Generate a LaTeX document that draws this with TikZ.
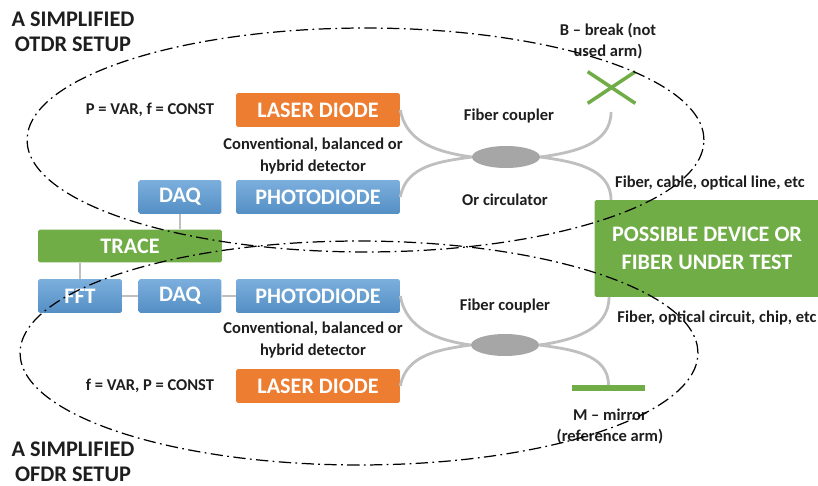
\documentclass[tikz,border=0pt]{standalone}
\usepackage{fontspec}
\setmainfont{Carlito}
\usepackage{tikz}
\usepackage{xcolor}
\usetikzlibrary{positioning,shapes.geometric}
\definecolor{fdblue}{HTML}{5B9BD5}
\definecolor{fdgreen}{HTML}{70AD47}
\definecolor{fdorange}{HTML}{ED7D31}
\definecolor{fdfiber}{HTML}{BFBFBF}
\definecolor{fdcoupler}{HTML}{A6A6A6}
\definecolor{fdtext}{HTML}{1E1E1E}
\tikzset{
  unitBox/.style={rounded corners=1pt, text=white, font=\bfseries\fontsize{12.6}{15}\selectfont, minimum height=0.68cm, inner sep=0pt, align=center},
  laserBox/.style={unitBox, fill=fdorange, minimum width=3.28cm},
  detBox/.style={unitBox, top color=fdblue!80!white, bottom color=fdblue!92!black, minimum width=3.28cm},
  smallBox/.style={detBox, minimum width=1.66cm},
  greenBox/.style={unitBox, fill=fdgreen},
  fiberLine/.style={draw=fdfiber, line width=1.6pt},
  couplerNode/.style={ellipse, fill=fdcoupler, minimum width=1.36cm, minimum height=0.44cm, inner sep=0pt},
  setupLabel/.style={font=\bfseries\fontsize{9.4}{12}\selectfont, text=fdtext, align=center, inner sep=0pt},
  setupTitle/.style={font=\bfseries\fontsize{12.7}{14.4}\selectfont, text=fdtext, align=center, inner sep=0pt},
  setupBound/.style={line width=0.7pt, dash pattern=on 7pt off 2.5pt on 1pt off 2.5pt}
}

\begin{document}
\begin{tikzpicture}[x=0.02cm,y=-0.02cm]
  \useasboundingbox (0,0) rectangle (818,486);

  \node[laserBox] (ldTop) at (318,110) {LASER DIODE};
  \node[detBox] (pdTop) at (318,197) {PHOTODIODE};
  \node[smallBox] (daqTop) at (180,197) {DAQ};
  \node[greenBox, minimum width=3.68cm, minimum height=0.66cm] (trace) at (130,246) {TRACE};
  \node[smallBox, minimum width=1.68cm] (fft) at (80,296) {FFT};
  \node[smallBox] (daqBot) at (180,296) {DAQ};
  \node[detBox] (pdBot) at (318,296) {PHOTODIODE};
  \node[laserBox] (ldBot) at (318,386) {LASER DIODE};
  \node[greenBox, minimum width=4.5cm, minimum height=1.94cm] (dut) at (707,248.5) {POSSIBLE DEVICE OR\\[1pt]FIBER UNDER TEST};

  \draw[fiberLine] (daqTop.south) -- (daqTop.south |- trace.north);
  \draw[fiberLine] (fft.north |- trace.south) -- (fft.north);
  \draw[fiberLine] (fft.east) -- (daqBot.west);
  \draw[fiberLine] (daqBot.east) -- (pdBot.west);

  \node[couplerNode] (cplTop) at (506,157) {};
  \node[couplerNode] (cplBot) at (505,345) {};
  \coordinate (brkEnd) at (611,112);
  \coordinate (dutIn) at (611,200);
  \coordinate (dutOut) at (609,297);
  \node[fill=fdgreen, minimum width=1.46cm, minimum height=3pt, inner sep=0pt] (mirror) at (608.5,388) {};

  \draw[fiberLine] (ldTop.east) to[out=-80, in=172] (cplTop.west);
  \draw[fiberLine] (pdTop.east) to[out=80, in=188] (cplTop.west);
  \draw[fiberLine] (cplTop.east) to[out=8, in=-90] (brkEnd);
  \draw[fiberLine] (cplTop.east) to[out=-8, in=90] (dutIn);
  \draw[fiberLine] (pdBot.east) to[out=-80, in=172] (cplBot.west);
  \draw[fiberLine] (ldBot.east) to[out=80, in=188] (cplBot.west);
  \draw[fiberLine] (cplBot.east) to[out=8, in=-90] (dutOut);
  \draw[fiberLine] (cplBot.east) to[out=-8, in=90] (mirror.north);

  \node[minimum width=0.94cm, minimum height=0.62cm, inner sep=0pt] (brk) at (611.5,87.5) {};
  \draw[fdgreen, line width=2pt] (brk.north west) -- (brk.south east);
  \draw[fdgreen, line width=2pt] (brk.south west) -- (brk.north east);

  \node[setupTitle] (otdrTitle) at (73,32) {A SIMPLIFIED\\OTDR SETUP};
  \node[setupTitle] (ofdrTitle) at (73,462) {A SIMPLIFIED\\OFDR SETUP};
  \node[setupLabel] (pvar) at (150,110) {P = VAR, f = CONST};
  \node[setupLabel] (fvar) at (150,386) {f = VAR, P = CONST};
  \node[setupLabel] (detTop) at (313,156) {Conventional, balanced or\\hybrid detector};
  \node[setupLabel] (detBot) at (313,340) {Conventional, balanced or\\hybrid detector};
  \node[setupLabel] (cplTopLab) at (509,116) {Fiber coupler};
  \node[setupLabel] (circLab) at (505,200) {Or circulator};
  \node[setupLabel] (cplBotLab) at (505,306) {Fiber coupler};
  \node[setupLabel] (lineLab) at (710,183) {Fiber, cable, optical line, etc};
  \node[setupLabel] (chipLab) at (717,318) {Fiber, optical circuit, chip, etc};
  \node[setupLabel] (brkLab) at (608,41) {B -- break (not\\used arm)};
  \node[setupLabel] (mirLab) at (610,426) {M -- mirror\\(reference arm)};

  \draw[setupBound] (365.5,140) ellipse [x radius=6.77cm, y radius=2.24cm];
  \draw[setupBound] (359,353) ellipse [x radius=6.78cm, y radius=2.24cm];
\end{tikzpicture}
\end{document}
